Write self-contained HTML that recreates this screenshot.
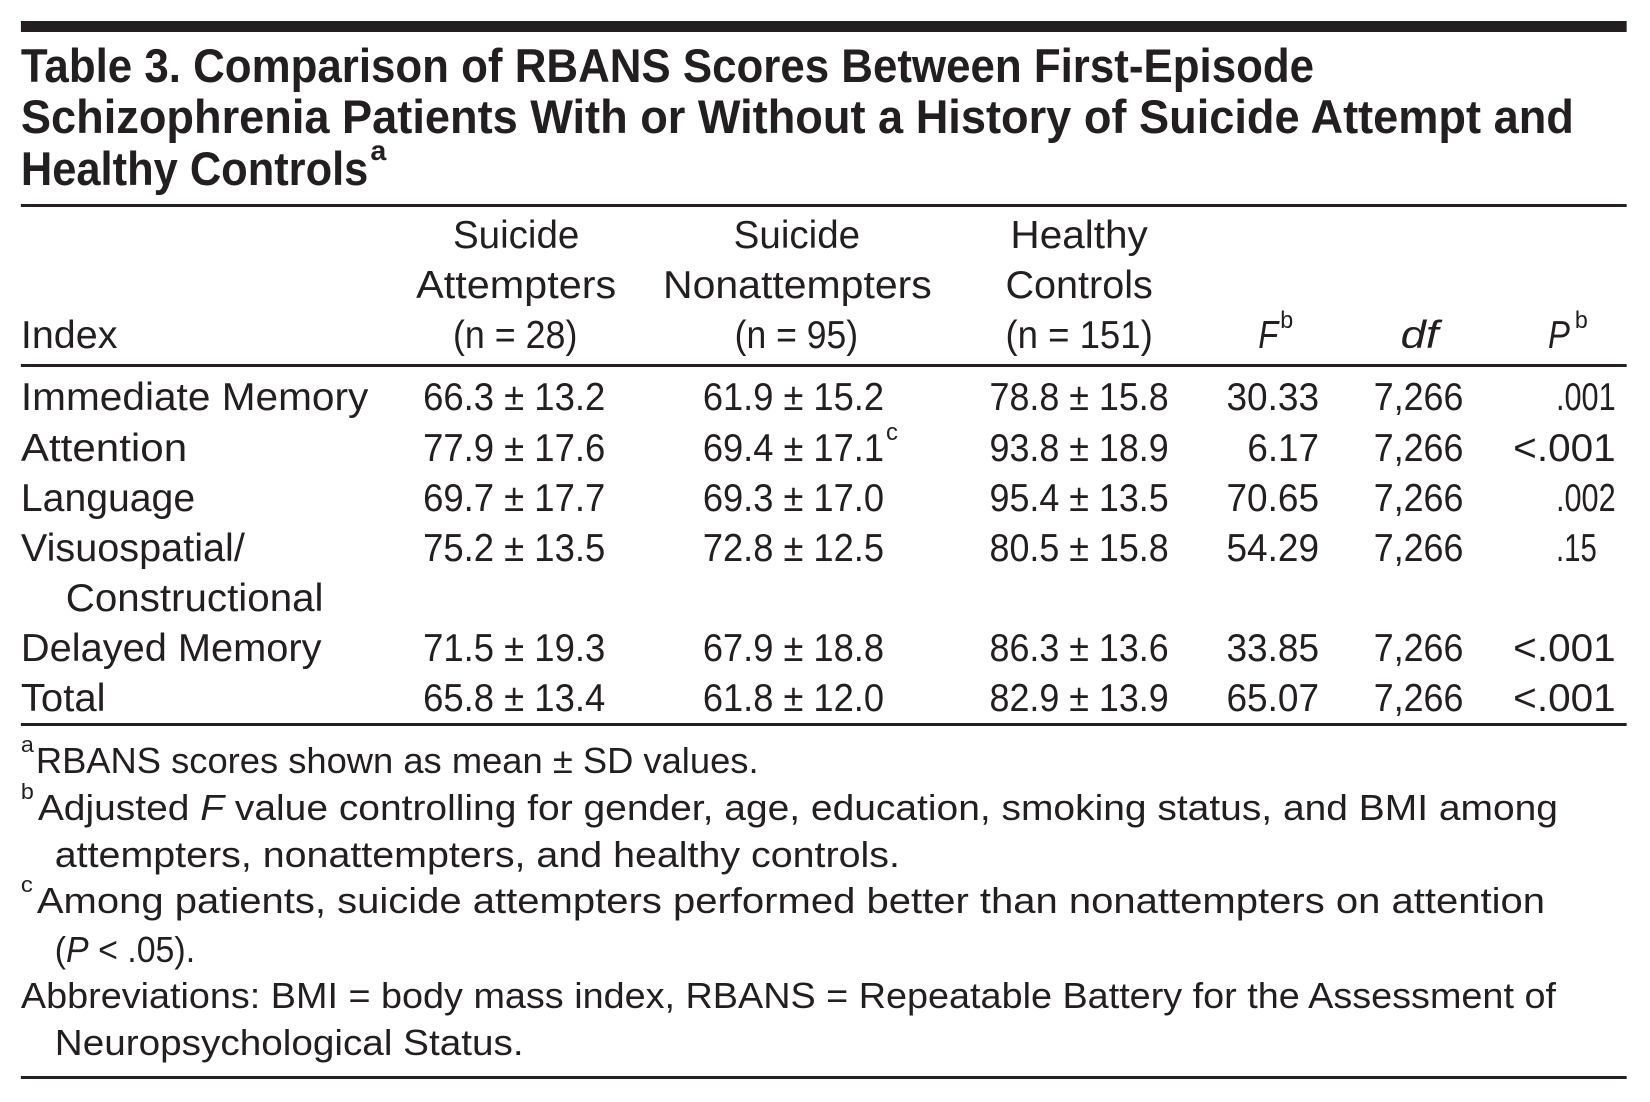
<!DOCTYPE html>
<html><head><meta charset="utf-8"><style>
html,body{margin:0;padding:0;background:#fff;}
svg{display:block;}
text{font-family:"Liberation Sans",sans-serif;fill:#231f20;}
</style></head><body>
<svg id="s" width="1650" height="1102" viewBox="0 0 1650 1102">
<g transform="scale(0.9955,1)">
<rect x="21" y="21" width="1613" height="11" fill="#231f20"/>
<rect x="21" y="204" width="1613" height="3" fill="#231f20"/>
<rect x="21" y="364" width="1613" height="3" fill="#231f20"/>
<rect x="21" y="723" width="1613" height="3" fill="#231f20"/>
<rect x="21" y="1076" width="1613" height="3" fill="#231f20"/>
<g id="g"></g>
</g>
</svg>
<script>
const rowLabels=["Immediate Memory","Attention","Language","Visuospatial/","Delayed Memory","Total"];
const attempters=["66.3 ± 13.2","77.9 ± 17.6","69.7 ± 17.7","75.2 ± 13.5","71.5 ± 19.3","65.8 ± 13.4"];
const nonattempters=["61.9 ± 15.2","69.4 ± 17.1","69.3 ± 17.0","72.8 ± 12.5","67.9 ± 18.8","61.8 ± 12.0"];
const controls=["78.8 ± 15.8","93.8 ± 18.9","95.4 ± 13.5","80.5 ± 15.8","86.3 ± 13.6","82.9 ± 13.9"];
const fValues=["30.33","6.17","70.65","54.29","33.85","65.07"];
const dfValues=["7,266","7,266","7,266","7,266","7,266","7,266"];
const pValues=[".001","<.001",".002",".15","<.001","<.001"];
const rowY=[410,461,511,561,661,711];

const g=document.getElementById('g');
const NS='http://www.w3.org/2000/svg';
function t(str,x,y,size,opts){
  opts=opts||{};
  const e=document.createElementNS(NS,'text');
  if(opts.html)e.innerHTML=str;else e.textContent=str;
  e.setAttribute('x',x);e.setAttribute('y',y);
  e.setAttribute('font-size',size);
  if(opts.bold)e.setAttribute('font-weight','bold');
  if(opts.italic)e.setAttribute('font-style','italic');
  if(opts.w){e.setAttribute('textLength',opts.w);e.setAttribute('lengthAdjust','spacingAndGlyphs');}
  g.appendChild(e);
  return e;
}
let e;
e=t("Table 3. Comparison of RBANS Scores Between First-Episode",21,82,47,{bold:1,w:1299});


e=t("Schizophrenia Patients With or Without a History of Suicide Attempt and",21,133,47,{bold:1,w:1560});


e=t("Healthy Controls",21,185,47,{bold:1,w:349});


e=t("a",372,160,28,{bold:1,w:16});



const S=39;
e=t("Index",21,348,S,{w:97});


e=t("Suicide",455,248,S,{w:127});
e=t("Attempters",418,298,S,{w:201});
e=t("(n = 28)",455,348,S,{w:125});
e=t("Suicide",737,248,S,{w:127});
e=t("Nonattempters",666,298,S,{w:270});
e=t("(n = 95)",738,348,S,{w:124});
e=t("Healthy",1015,248,S,{w:138});
e=t("Controls",1010,298,S,{w:148});
e=t("(n = 151)",1010,348,S,{w:148});
e=t("F",1264,348,S,{italic:1,w:20});
e=t("b",1286,328,24,{w:13});
e=t("df",1407,348,S,{italic:1,w:38});
e=t("P",1555,348,S,{italic:1,w:22});
e=t("b",1582,328,24,{w:13});

const labelW=[349,167,175,225,302,85];
for(let i=0;i<rowLabels.length;i++){
  const y=rowY[i];
  e=t(rowLabels[i],21,y,S,{w:labelW[i]});
  
  
  e=t(attempters[i],425,y,S,{w:183});
  
  
  e=t(nonattempters[i],706,y,S,{w:182});
  
  
  e=t(controls[i],994,y,S,{w:180});
  
  
  const fw=fValues[i].length===4?72:93;
  e=t(fValues[i],1325-fw,y,S,{w:fw});
  
  
  e=t(dfValues[i],1380,y,S,{w:90});
  
  
  const p=pValues[i];
  const lt=p.charAt(0)==='<';
  const pw=lt?103:(p.length===3?41:60);
  const px=lt?1520:1563;
  e=t(p,px,y,S,{w:pw});
  
  
}
e=t("Constructional",66,611,S,{w:259});


e=t("c",890,440,24,{w:12});



const F=36;
e=t("a",21,752,22,{w:13});
e=t("RBANS scores shown as mean ± SD values.",36,773,F,{w:726});
e=t("b",21,799,22,{w:13});
e=t('Adjusted <tspan font-style="italic">F</tspan> value controlling for gender, age, education, smoking status, and BMI among',38,820,F,{w:1527,html:1});
e=t("attempters, nonattempters, and healthy controls.",55,867,F,{w:849});
e=t("c",21,892,22,{w:12});
e=t("Among patients, suicide attempters performed better than nonattempters on attention",37,913,F,{w:1515});
e=t('(<tspan font-style="italic">P</tspan> &lt; .05).',55,962,F,{w:141,html:1});
e=t("Abbreviations: BMI = body mass index, RBANS = Repeatable Battery for the Assessment of",21,1008,F,{w:1542});
e=t("Neuropsychological Status.",55,1055,F,{w:471});
</script>
</body></html>
